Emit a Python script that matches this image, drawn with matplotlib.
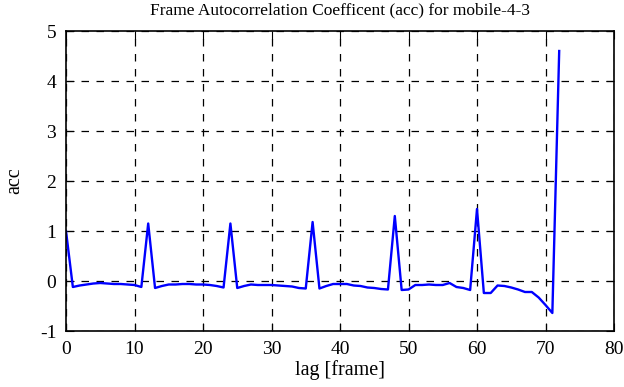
import matplotlib
matplotlib.use("Agg")
import matplotlib.pyplot as plt
import numpy as np

plt.rcParams['font.family'] = ['Liberation Serif', 'DejaVu Serif']
plt.rcParams['axes.unicode_minus'] = False

# lag in frames and autocorrelation values
lags = np.arange(0, 73)
acc = [1.00, -0.12, -0.09, -0.07, -0.05, -0.04, -0.05, -0.06, -0.06, -0.07,
       -0.08, -0.12, 1.15, -0.14, -0.10, -0.07, -0.07, -0.06, -0.06, -0.07,
       -0.07, -0.08, -0.10, -0.13, 1.15, -0.14, -0.10, -0.07, -0.08, -0.08,
       -0.08, -0.09, -0.10, -0.11, -0.14, -0.15, 1.18, -0.15, -0.10, -0.06,
       -0.06, -0.06, -0.09, -0.10, -0.13, -0.14, -0.16, -0.17, 1.30, -0.18,
       -0.17, -0.08, -0.08, -0.07, -0.08, -0.08, -0.04, -0.12, -0.14, -0.18,
       1.44, -0.24, -0.24, -0.09, -0.10, -0.13, -0.17, -0.22, -0.22, -0.33,
       -0.48, -0.64, 4.60]

fig = plt.figure(figsize=(6.24, 3.87), dpi=100)
ax = fig.add_axes([66/624, 56/387, 548/624, 300/387])

ax.plot(lags, acc, color='blue', linewidth=1.7)

ax.set_xlim(0, 80)
ax.set_ylim(-1, 5)
ax.set_xticks(np.arange(0, 81, 10))
ax.set_yticks(np.arange(-1, 6, 1))
ax.grid(True, color='black', linestyle=(0, (6, 6)), linewidth=0.9)
ax.tick_params(direction='in', top=True, right=True, length=6, labelsize=14, pad=7)
for s in ax.spines.values():
    s.set_linewidth(1.2)

ax.set_xlabel('lag [frame]', fontsize=14.5, labelpad=2)
ax.set_ylabel('acc', fontsize=14.5, labelpad=11)
ax.set_title('Frame Autocorrelation Coefficent (acc) for mobile-4-3', fontsize=12.5, pad=12)

fig.savefig('out.png', dpi=100)
